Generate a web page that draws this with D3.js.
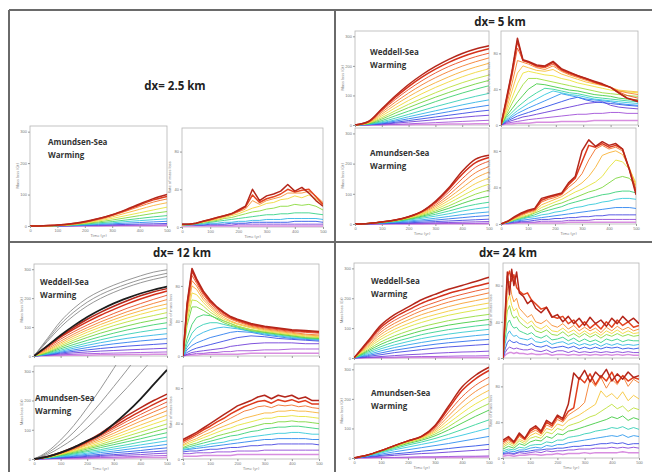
<!DOCTYPE html>
<html>
<head>
<meta charset="utf-8">
<script src="https://cdn.jsdelivr.net/npm/d3@7"></script>
<style>
  body { margin: 0; background: #fff; }
  svg { display: block; font-family: "Open Sans", "DejaVu Sans", sans-serif; }
</style>
</head>
<body>
<svg width="652" height="472"></svg>
<script>
// ---- data ----
// cumulative panels: time 0..500 every 50
const timeCum = [0, 50, 100, 150, 200, 250, 300, 350, 400, 450, 500];
const timeEvery25 = [0, 25, 50, 75, 100, 125, 150, 175, 200, 225, 250, 275, 300, 325, 350, 375, 400, 425, 450, 475, 500];
const timeEvery20 = [0, 20, 40, 60, 80, 100, 120, 140, 160, 180, 200, 220, 240, 260, 280, 300, 320, 340, 360, 380, 400, 420, 440, 460, 480, 500];
const time5WRate = [0, 20, 40, 60, 80, 100, 130, 160, 190, 220, 250, 280, 310, 340, 370, 400, 430, 460, 500];
const time12WRate = [0, 15, 33, 50, 75, 100, 125, 150, 175, 200, 250, 300, 350, 400, 450, 500];
const time24WRate = [0, 8, 16, 24, 32, 40, 50, 60, 75, 90, 105, 120, 140, 160, 180, 200, 220, 240, 260, 280, 300, 320, 340, 360, 380, 400, 420, 440, 460, 480, 500];

const xTicks = [0, 100, 200, 300, 400, 500];
const yTicksCum = [0, 100, 200, 300];
const yTicksRate = [0, 40, 80];

// series are listed from the lowest (violet) to the highest (red) curve
const amundsen25Cum = [
  [0, 0, 0, 0, 0, 0, 0, 1, 1, 1, 1],
  [0, 0, 0, 0, 1, 1, 2, 2, 3, 3, 4],
  [0, 0, 0, 1, 2, 3, 4, 5, 6, 7, 8],
  [0, 0, 0, 1, 3, 5, 7, 9, 11, 13, 15],
  [0, 0, 1, 2, 4, 7, 10, 14, 17, 20, 23],
  [0, 0, 1, 3, 6, 10, 14, 19, 24, 29, 33],
  [0, 0, 1, 4, 8, 13, 19, 26, 33, 40, 46],
  [0, 0, 1, 4, 9, 16, 24, 33, 42, 51, 60],
  [0, 0, 1, 5, 11, 19, 29, 41, 53, 65, 74],
  [0, 0, 2, 5, 12, 21, 33, 47, 62, 76, 86],
  [0, 1, 3, 7, 13, 23, 35, 50, 67, 83, 94],
  [0, 1, 3, 7, 14, 24, 36, 52, 70, 87, 100]
];
const amundsen25Rate = [
  [1, 1, 1, 1, 1, 1, 1, 1, 1, 1, 1, 1, 1, 1, 1, 1, 1, 1, 1, 1, 1],
  [2, 2, 2, 2, 2, 2, 2, 2, 3, 3, 3, 3, 3, 3, 3, 3, 3, 3, 3, 3, 3],
  [3, 3, 2, 2, 3, 3, 3, 4, 4, 4, 5, 5, 5, 5, 5, 5, 6, 6, 6, 6, 5],
  [3, 3, 3, 3, 4, 4, 5, 5, 6, 6, 7, 7, 8, 8, 8, 9, 9, 9, 9, 9, 8],
  [2, 2, 3, 4, 5, 6, 7, 8, 9, 10, 11, 12, 13, 13, 14, 14, 15, 15, 15, 14, 13],
  [2, 3, 4, 5, 6, 7, 9, 10, 12, 14, 16, 17, 19, 20, 22, 22, 24, 23, 24, 22, 18],
  [2, 3, 4, 5, 7, 8, 10, 12, 14, 17, 20, 22, 25, 26, 29, 30, 33, 31, 34, 30, 24],
  [2, 3, 4, 6, 7, 9, 11, 13, 16, 19, 28, 24, 28, 30, 32, 36, 36, 36, 38, 33, 26],
  [3, 3, 4, 6, 8, 10, 12, 14, 17, 21, 34, 26, 30, 32, 35, 40, 37, 39, 40, 32, 24],
  [3, 3, 4, 6, 8, 10, 12, 14, 18, 22, 40, 28, 33, 35, 38, 45, 38, 42, 36, 28, 22]
];
const weddell5Cum = [
  [0, 0, 0, 1, 1, 2, 2, 3, 3, 4, 4],
  [0, 0, 1, 2, 4, 6, 8, 10, 12, 14, 16],
  [0, 1, 3, 6, 10, 14, 18, 22, 26, 30, 33],
  [0, 1, 4, 9, 15, 21, 27, 33, 39, 45, 50],
  [0, 2, 6, 13, 21, 29, 37, 45, 53, 60, 67],
  [0, 2, 8, 17, 28, 38, 48, 58, 68, 77, 85],
  [0, 3, 11, 23, 36, 49, 62, 74, 86, 97, 107],
  [0, 4, 15, 31, 47, 63, 79, 94, 108, 121, 133],
  [0, 5, 20, 40, 59, 77, 94, 110, 125, 139, 151],
  [0, 6, 25, 48, 70, 90, 109, 127, 143, 157, 169],
  [0, 7, 31, 58, 83, 106, 127, 146, 163, 178, 190],
  [0, 8, 37, 68, 96, 121, 143, 163, 181, 196, 209],
  [0, 9, 43, 77, 108, 136, 160, 181, 199, 214, 227],
  [0, 10, 48, 86, 120, 150, 176, 198, 216, 231, 243],
  [0, 11, 52, 93, 130, 162, 189, 212, 231, 246, 258],
  [0, 12, 55, 98, 137, 170, 198, 222, 242, 257, 268]
];
const weddell5Rate = [
  [0, 1, 1, 2, 2, 2, 3, 3, 3, 4, 4, 4, 4, 5, 5, 5, 5, 5, 5],
  [0, 2, 3, 4, 5, 6, 7, 8, 9, 10, 11, 12, 12, 13, 13, 14, 14, 13, 13],
  [0, 3, 5, 7, 9, 10, 12, 14, 16, 18, 20, 22, 24, 25, 26, 22, 20, 19, 18],
  [0, 4, 7, 10, 12, 14, 17, 20, 23, 26, 29, 31, 28, 26, 25, 24, 23, 22, 21],
  [0, 5, 9, 13, 16, 19, 23, 27, 31, 35, 33, 31, 29, 28, 27, 26, 24, 23, 22],
  [0, 6, 11, 16, 20, 24, 29, 34, 38, 36, 34, 33, 31, 29, 28, 27, 26, 25, 24],
  [0, 8, 14, 20, 25, 30, 36, 41, 40, 38, 36, 35, 33, 31, 30, 29, 28, 27, 26],
  [0, 10, 18, 26, 33, 40, 46, 45, 43, 41, 39, 38, 36, 34, 33, 32, 30, 29, 28],
  [0, 12, 24, 35, 45, 52, 52, 50, 48, 46, 44, 42, 40, 38, 36, 35, 34, 33, 32],
  [0, 15, 30, 46, 58, 60, 58, 56, 55, 52, 50, 47, 45, 43, 41, 39, 38, 37, 36],
  [0, 18, 38, 58, 66, 64, 61, 60, 62, 57, 54, 51, 48, 46, 44, 42, 39, 38, 37],
  [0, 22, 46, 72, 70, 68, 64, 62, 66, 60, 56, 53, 50, 47, 45, 42, 38, 36, 34],
  [0, 26, 54, 86, 72, 70, 65, 64, 68, 61, 57, 54, 51, 48, 45, 42, 37, 33, 30],
  [0, 28, 58, 94, 72, 70, 66, 65, 70, 62, 58, 55, 52, 48, 45, 42, 36, 30, 27],
  [0, 30, 60, 97, 73, 71, 67, 66, 71, 63, 59, 55, 52, 49, 46, 42, 36, 30, 26]
];
const amundsen5Cum = [
  [0, 0, 0, 0, 0, 0, 1, 1, 1, 1, 1],
  [0, 0, 0, 1, 1, 1, 1, 2, 2, 2, 3],
  [0, 0, 1, 2, 2, 3, 4, 5, 6, 7, 8],
  [0, 1, 2, 3, 4, 6, 8, 10, 12, 14, 16],
  [0, 1, 2, 4, 7, 10, 13, 17, 21, 25, 28],
  [0, 1, 3, 6, 10, 14, 19, 25, 31, 36, 40],
  [0, 1, 4, 8, 13, 19, 26, 34, 43, 50, 56],
  [0, 1, 5, 9, 15, 23, 32, 43, 55, 65, 72],
  [0, 2, 5, 10, 17, 26, 38, 52, 68, 82, 92],
  [0, 2, 6, 11, 18, 29, 43, 60, 80, 99, 112],
  [0, 2, 6, 11, 20, 32, 48, 69, 93, 116, 132],
  [0, 2, 6, 12, 21, 34, 53, 78, 106, 134, 152],
  [0, 2, 7, 12, 22, 37, 58, 87, 120, 152, 172],
  [0, 2, 7, 13, 23, 39, 63, 96, 135, 170, 190],
  [0, 2, 7, 13, 24, 41, 68, 106, 150, 188, 208],
  [0, 2, 7, 13, 24, 42, 72, 115, 165, 203, 220],
  [0, 2, 7, 13, 24, 42, 75, 120, 175, 215, 228]
];
const amundsen5Rate = [
  [0, 0, 1, 1, 1, 1, 1, 1, 1, 1, 2, 2, 2, 2, 2, 2, 2, 2, 2, 2, 2],
  [0, 1, 1, 2, 2, 2, 3, 3, 3, 3, 4, 4, 4, 4, 5, 5, 5, 5, 5, 5, 5],
  [0, 1, 2, 3, 3, 4, 5, 5, 6, 6, 7, 7, 8, 8, 9, 9, 10, 10, 10, 10, 10],
  [0, 1, 3, 4, 5, 6, 7, 8, 9, 10, 11, 12, 13, 14, 15, 16, 17, 18, 18, 18, 17],
  [0, 2, 4, 5, 7, 8, 10, 11, 13, 14, 16, 18, 19, 21, 22, 24, 25, 27, 28, 28, 27],
  [0, 2, 4, 6, 8, 10, 13, 15, 17, 19, 22, 24, 26, 28, 30, 32, 33, 35, 36, 36, 34],
  [0, 2, 5, 7, 9, 12, 15, 18, 21, 23, 26, 29, 32, 35, 37, 40, 45, 50, 52, 50, 42],
  [0, 2, 5, 8, 10, 13, 18, 21, 24, 27, 31, 35, 38, 42, 46, 52, 62, 70, 68, 60, 45],
  [0, 3, 6, 9, 12, 14, 21, 24, 27, 30, 35, 40, 45, 52, 62, 75, 78, 80, 76, 62, 42],
  [0, 3, 7, 10, 13, 15, 24, 27, 29, 32, 40, 46, 55, 70, 82, 86, 82, 84, 80, 60, 38],
  [0, 3, 7, 11, 14, 16, 26, 29, 31, 33, 43, 50, 68, 86, 84, 88, 84, 86, 82, 60, 35],
  [0, 3, 8, 12, 15, 17, 28, 30, 32, 34, 45, 52, 80, 92, 85, 90, 86, 88, 82, 60, 32]
];
const weddell12Cum = [
  [0, 1, 2, 3, 3, 4, 4, 5, 5, 6, 6],
  [0, 2, 4, 6, 8, 9, 10, 11, 12, 13, 14],
  [0, 3, 7, 11, 14, 17, 19, 21, 23, 25, 27],
  [0, 4, 10, 16, 21, 26, 30, 34, 37, 40, 43],
  [0, 5, 13, 21, 29, 36, 42, 47, 52, 56, 60],
  [0, 6, 16, 27, 37, 46, 54, 61, 67, 72, 77],
  [0, 8, 20, 33, 45, 56, 66, 75, 83, 90, 96],
  [0, 10, 25, 40, 54, 67, 79, 90, 99, 108, 115],
  [0, 12, 30, 48, 64, 79, 92, 104, 115, 124, 133],
  [0, 14, 35, 55, 73, 90, 105, 118, 130, 140, 150],
  [0, 17, 40, 62, 82, 100, 116, 131, 144, 156, 166],
  [0, 20, 45, 69, 90, 109, 126, 142, 156, 169, 180],
  [0, 24, 51, 76, 98, 118, 136, 153, 168, 182, 195],
  [0, 28, 58, 84, 107, 128, 147, 165, 181, 196, 210],
  [0, 32, 65, 93, 118, 141, 161, 180, 197, 212, 225],
  [0, 34, 69, 99, 127, 151, 172, 191, 208, 222, 233]
];
const weddell12Gray = [
  [0, 50, 100, 140, 173, 199, 220, 238, 253, 265, 275],
  [0, 55, 110, 152, 186, 212, 232, 249, 264, 276, 286],
  [0, 60, 120, 165, 200, 225, 245, 262, 277, 290, 298]
];
const weddell12Black = [0, 35, 72, 105, 135, 160, 182, 200, 216, 229, 240];
const weddell12Rate = [
  [0, 1, 1, 1, 2, 2, 2, 2, 2, 2, 3, 3, 3, 3, 3, 3],
  [0, 1, 2, 3, 3, 4, 4, 5, 5, 6, 6, 7, 7, 8, 8, 8],
  [0, 2, 4, 5, 6, 7, 8, 9, 11, 12, 14, 15, 15, 15, 14, 14],
  [0, 4, 7, 9, 11, 13, 15, 17, 19, 21, 23, 22, 20, 19, 18, 17],
  [0, 7, 12, 15, 18, 21, 23, 25, 27, 28, 27, 24, 22, 20, 19, 18],
  [0, 10, 18, 23, 27, 30, 32, 33, 32, 31, 28, 25, 23, 21, 20, 19],
  [0, 14, 26, 32, 36, 38, 38, 36, 34, 32, 28, 26, 24, 22, 20, 19],
  [0, 20, 36, 44, 47, 46, 43, 40, 37, 34, 30, 27, 25, 23, 21, 20],
  [0, 35, 56, 56, 52, 47, 42, 38, 35, 33, 29, 27, 25, 23, 21, 20],
  [0, 40, 64, 63, 57, 50, 45, 40, 37, 34, 30, 28, 26, 24, 22, 21],
  [0, 44, 72, 70, 61, 53, 47, 42, 39, 36, 32, 29, 27, 25, 23, 22],
  [0, 48, 80, 76, 64, 56, 49, 44, 40, 37, 33, 30, 28, 26, 24, 23],
  [0, 52, 86, 80, 67, 58, 51, 46, 42, 39, 34, 31, 29, 27, 25, 24],
  [0, 55, 92, 83, 70, 60, 53, 47, 43, 40, 35, 32, 30, 28, 27, 26],
  [0, 58, 97, 86, 72, 62, 55, 49, 44, 41, 36, 33, 31, 29, 28, 27],
  [0, 60, 100, 88, 74, 64, 56, 50, 45, 42, 37, 34, 32, 30, 29, 28]
];
const amundsen12Cum = [
  [0, 0, 1, 1, 2, 3, 3, 4, 5, 5, 6],
  [0, 1, 2, 3, 4, 5, 6, 8, 9, 11, 12],
  [0, 1, 3, 5, 6, 9, 11, 13, 15, 18, 20],
  [0, 2, 4, 6, 9, 12, 15, 18, 22, 25, 28],
  [0, 2, 5, 9, 12, 16, 21, 25, 29, 34, 38],
  [0, 3, 7, 11, 16, 22, 27, 33, 39, 44, 50],
  [0, 3, 9, 14, 20, 27, 34, 41, 48, 55, 62],
  [0, 4, 10, 17, 25, 32, 41, 49, 58, 66, 75],
  [0, 5, 12, 20, 29, 39, 49, 59, 69, 80, 90],
  [0, 5, 14, 23, 34, 45, 56, 68, 80, 93, 105],
  [0, 6, 15, 26, 38, 50, 64, 78, 92, 106, 120],
  [0, 6, 16, 28, 41, 56, 72, 88, 104, 120, 135],
  [0, 7, 18, 31, 46, 62, 80, 98, 116, 133, 150],
  [0, 7, 19, 33, 50, 68, 88, 109, 129, 147, 165],
  [0, 7, 20, 35, 54, 74, 97, 119, 141, 161, 180],
  [0, 8, 21, 37, 57, 79, 104, 129, 152, 174, 195],
  [0, 8, 21, 38, 59, 83, 110, 138, 163, 187, 208],
  [0, 8, 22, 40, 62, 88, 118, 148, 175, 200, 222]
];
const amundsen12Gray = [
  [0, 15, 40, 70, 107, 150, 196, 244, 294, 345, 395],
  [0, 20, 52, 92, 140, 192, 248, 305, 365, 425, 485],
  [0, 25, 65, 115, 175, 240, 310, 380, 450, 520, 590]
];
const amundsen12Black = [0, 8, 22, 40, 62, 85, 120, 160, 205, 255, 305];
const amundsen12Rate = [
  [3, 3, 3, 4, 4, 4, 4, 4, 5, 5, 5, 5, 5, 5, 5, 5, 5, 5, 5, 5, 5],
  [6, 6, 7, 7, 7, 8, 8, 8, 9, 9, 9, 9, 10, 10, 10, 10, 10, 10, 10, 10, 10],
  [8, 9, 9, 10, 11, 11, 12, 13, 13, 14, 15, 15, 16, 16, 17, 17, 17, 17, 17, 17, 16],
  [10, 11, 12, 13, 14, 15, 16, 17, 18, 19, 20, 21, 22, 22, 23, 23, 23, 23, 23, 22, 22],
  [11, 12, 14, 15, 17, 18, 19, 21, 22, 24, 25, 26, 27, 28, 29, 29, 30, 30, 29, 28, 28],
  [12, 14, 16, 18, 20, 22, 24, 26, 27, 29, 31, 32, 34, 35, 36, 36, 37, 37, 36, 35, 34],
  [13, 16, 18, 21, 23, 26, 28, 30, 32, 34, 36, 38, 40, 40, 42, 42, 43, 42, 42, 41, 40],
  [15, 18, 21, 24, 27, 30, 33, 35, 38, 40, 42, 44, 46, 46, 48, 48, 49, 48, 48, 47, 46],
  [16, 20, 23, 27, 30, 34, 37, 40, 43, 46, 48, 50, 52, 52, 54, 54, 55, 54, 54, 53, 52],
  [18, 22, 26, 30, 34, 38, 42, 46, 50, 54, 56, 59, 60, 58, 61, 60, 61, 59, 60, 58, 57],
  [20, 24, 28, 33, 37, 42, 46, 51, 55, 59, 62, 65, 66, 63, 67, 65, 67, 64, 66, 62, 62],
  [22, 26, 30, 35, 40, 45, 50, 55, 60, 63, 66, 70, 72, 68, 72, 70, 72, 68, 70, 66, 66]
];
const weddell24Cum = [
  [0, 1, 1, 1, 2, 2, 2, 2, 2, 2, 2],
  [0, 1, 2, 3, 4, 5, 5, 6, 7, 7, 8],
  [0, 2, 5, 8, 11, 13, 16, 18, 20, 21, 23],
  [0, 5, 11, 18, 23, 28, 33, 37, 40, 43, 46],
  [0, 8, 17, 26, 33, 40, 46, 51, 55, 59, 62],
  [0, 11, 24, 35, 44, 52, 59, 65, 70, 75, 79],
  [0, 15, 31, 44, 55, 65, 73, 80, 86, 91, 96],
  [0, 19, 38, 54, 66, 78, 87, 95, 101, 107, 112],
  [0, 23, 46, 64, 78, 91, 101, 110, 117, 123, 129],
  [0, 27, 54, 74, 90, 104, 115, 125, 133, 140, 146],
  [0, 32, 63, 86, 104, 119, 132, 143, 152, 160, 168],
  [0, 36, 71, 96, 115, 132, 145, 157, 167, 176, 184],
  [0, 40, 79, 106, 127, 145, 159, 172, 183, 192, 201],
  [0, 44, 87, 116, 138, 158, 173, 187, 198, 208, 218],
  [0, 48, 95, 126, 149, 170, 186, 201, 213, 224, 234],
  [0, 52, 103, 136, 160, 183, 200, 216, 228, 240, 251],
  [0, 55, 110, 145, 170, 195, 213, 230, 243, 256, 270]
];
const weddell24Rate = [
  [0, 3, 5, 6, 6, 5, 6, 5, 5, 4, 5, 4, 4, 5, 3, 4, 4, 3, 4, 3, 4, 3, 4, 3, 4, 3, 4, 3, 4, 3, 3],
  [0, 6, 10, 12, 11, 10, 11, 10, 9, 9, 10, 8, 7, 9, 6, 8, 8, 6, 8, 6, 7, 6, 7, 6, 7, 6, 7, 6, 7, 6, 6],
  [0, 10, 17, 20, 18, 17, 18, 16, 15, 14, 16, 13, 12, 14, 11, 12, 13, 11, 13, 10, 12, 10, 12, 10, 12, 11, 12, 10, 11, 10, 11],
  [0, 16, 26, 30, 26, 24, 25, 22, 21, 20, 22, 18, 17, 19, 15, 17, 18, 15, 17, 14, 16, 14, 16, 13, 16, 14, 16, 14, 15, 14, 15],
  [0, 22, 38, 42, 36, 33, 34, 30, 28, 26, 28, 24, 22, 25, 20, 21, 23, 19, 22, 18, 21, 18, 20, 17, 21, 19, 21, 18, 20, 19, 19],
  [0, 30, 52, 58, 48, 44, 46, 40, 36, 33, 36, 30, 28, 31, 26, 25, 29, 24, 27, 23, 27, 23, 26, 22, 26, 24, 27, 24, 26, 24, 25],
  [0, 35, 62, 70, 58, 52, 55, 46, 42, 38, 41, 35, 32, 36, 30, 29, 33, 28, 31, 26, 30, 26, 29, 25, 30, 27, 31, 27, 30, 27, 28],
  [0, 40, 75, 85, 70, 62, 66, 55, 50, 45, 48, 40, 38, 42, 36, 34, 38, 32, 36, 30, 34, 30, 33, 28, 34, 30, 35, 31, 34, 30, 32],
  [0, 45, 90, 96, 85, 92, 78, 74, 70, 72, 64, 60, 54, 56, 46, 44, 46, 38, 42, 34, 40, 33, 38, 32, 40, 34, 42, 36, 40, 34, 36],
  [0, 50, 95, 70, 98, 80, 95, 72, 68, 60, 64, 55, 50, 56, 45, 48, 40, 46, 38, 44, 36, 45, 38, 42, 35, 44, 38, 46, 40, 44, 38]
];
const amundsen24Cum = [
  [0, 0, 1, 1, 1, 2, 2, 2, 2, 3, 3],
  [0, 1, 2, 2, 3, 4, 4, 5, 6, 6, 7],
  [0, 3, 6, 9, 12, 15, 17, 20, 23, 26, 29],
  [0, 4, 9, 14, 18, 23, 27, 32, 37, 41, 46],
  [0, 6, 13, 21, 28, 35, 42, 49, 57, 65, 73],
  [0, 7, 17, 28, 37, 46, 55, 66, 77, 89, 101],
  [0, 8, 20, 32, 44, 54, 66, 80, 96, 113, 129],
  [0, 9, 22, 36, 49, 60, 75, 95, 118, 141, 162],
  [0, 9, 23, 38, 52, 64, 81, 106, 135, 162, 184],
  [0, 10, 24, 40, 54, 67, 87, 118, 152, 183, 207],
  [0, 10, 25, 41, 56, 69, 92, 130, 170, 204, 229],
  [0, 10, 25, 42, 57, 71, 97, 142, 188, 225, 251],
  [0, 10, 25, 42, 58, 72, 102, 155, 207, 246, 273],
  [0, 10, 25, 42, 58, 73, 107, 167, 228, 268, 296],
  [0, 10, 25, 42, 58, 73, 110, 175, 240, 280, 307]
];
const amundsen24Rate = [
  [2, 3, 2, 3, 3, 4, 4, 3, 4, 4, 5, 4, 5, 5, 5, 6, 5, 6, 6, 6, 6, 6, 7, 6, 6, 6],
  [4, 5, 4, 6, 5, 6, 7, 6, 8, 7, 8, 8, 9, 9, 10, 10, 10, 11, 11, 11, 12, 11, 12, 11, 12, 11],
  [5, 6, 5, 7, 7, 8, 9, 9, 10, 10, 11, 11, 12, 13, 13, 14, 14, 15, 16, 16, 17, 16, 17, 15, 16, 16],
  [6, 8, 7, 9, 9, 11, 12, 11, 14, 13, 15, 15, 17, 18, 19, 20, 21, 22, 23, 24, 25, 24, 26, 23, 25, 24],
  [8, 10, 9, 12, 11, 14, 15, 15, 18, 17, 20, 20, 23, 24, 25, 27, 28, 30, 31, 32, 34, 33, 35, 32, 34, 32],
  [10, 13, 11, 16, 14, 18, 20, 19, 24, 22, 27, 26, 30, 31, 33, 35, 37, 39, 41, 43, 46, 44, 47, 42, 45, 43],
  [12, 16, 13, 19, 16, 22, 24, 22, 29, 27, 33, 31, 36, 38, 40, 43, 46, 48, 52, 56, 60, 55, 58, 52, 56, 54],
  [14, 18, 15, 21, 18, 25, 28, 25, 33, 31, 38, 36, 42, 45, 48, 52, 56, 60, 75, 68, 72, 66, 74, 64, 70, 66],
  [16, 20, 16, 24, 20, 28, 31, 27, 37, 34, 43, 40, 48, 52, 56, 62, 88, 80, 90, 78, 88, 82, 92, 80, 88, 84],
  [18, 22, 17, 26, 21, 30, 34, 28, 40, 36, 46, 42, 52, 56, 90, 84, 94, 82, 92, 86, 96, 84, 92, 86, 90, 88],
  [20, 24, 18, 28, 22, 32, 36, 30, 42, 38, 48, 44, 60, 95, 88, 98, 85, 96, 90, 99, 86, 94, 88, 96, 90, 92]
];

// ---- drawing ----
const svg = d3.select('svg');
const palette = ['#d88ee0', '#a050d8', '#6a3cd8', '#3050e8', '#2f8ff0', '#35c8e0', '#35d49a',
  '#45cc45', '#9ede3c', '#ece43c', '#f8bd3a', '#f6862e', '#ee5424', '#d8321c', '#b4261a'];
const rainbow = d3.piecewise(d3.interpolateRgb, palette);

svg.append('defs').append('filter').attr('id', 'soft')
  .append('feGaussianBlur').attr('stdDeviation', 0.35);

const panels = [
  { box: [30, 126, 167, 226], type: 'cum', xs: timeCum, series: amundsen25Cum, xLabels: true },
  { box: [182, 128, 323, 227], type: 'rate', xs: timeEvery25, series: amundsen25Rate, xLabels: true },
  { box: [355, 31, 489, 125], type: 'cum', xs: timeCum, series: weddell5Cum },
  { box: [501, 31, 638, 125], type: 'rate', xs: time5WRate, series: weddell5Rate },
  { box: [355, 128, 489, 224], type: 'cum', xs: timeCum, series: amundsen5Cum, xLabels: true },
  { box: [501, 128, 636, 224], type: 'rate', xs: timeEvery25, series: amundsen5Rate, xLabels: true },
  { box: [34, 264, 167, 356], type: 'cum', xs: timeCum, series: weddell12Cum, gray: weddell12Gray, black: weddell12Black },
  { box: [183, 264, 319, 356], type: 'rate', xs: time12WRate, series: weddell12Rate },
  { box: [34, 366, 167, 459], type: 'cum', xs: timeCum, series: amundsen12Cum, gray: amundsen12Gray, black: amundsen12Black, xLabels: true },
  { box: [183, 366, 319, 459], type: 'rate', xs: timeEvery25, series: amundsen12Rate, xLabels: true },
  { box: [354, 263, 489, 358], type: 'cum', xs: timeCum, series: weddell24Cum },
  { box: [503, 263, 639, 358], type: 'rate', xs: time24WRate, series: weddell24Rate },
  { box: [354, 364, 489, 458], type: 'cum', xs: timeCum, series: amundsen24Cum, xLabels: true },
  { box: [503, 364, 639, 458], type: 'rate', xs: timeEvery20, series: amundsen24Rate, xLabels: true }
];

panels.forEach((p, idx) => {
  const [x0, y0, x1, y1] = p.box;
  const x = d3.scaleLinear().domain([0, 500]).range([x0, x1]);
  const y = d3.scaleLinear()
    .domain(p.type === 'cum' ? [0, 318] : [0, 105])
    .range([y1, y0]);

  svg.append('rect')
    .attr('x', x0).attr('y', y0)
    .attr('width', x1 - x0).attr('height', y1 - y0)
    .attr('fill', '#fff')
    .attr('stroke', '#b5b5b5')
    .attr('stroke-width', 0.8);

  svg.append('clipPath').attr('id', 'clip' + idx)
    .append('rect')
    .attr('x', x0).attr('y', y0 - 1)
    .attr('width', x1 - x0).attr('height', y1 - y0 + 2);

  const g = svg.append('g')
    .attr('clip-path', `url(#clip${idx})`)
    .append('g')
    .attr('filter', 'url(#soft)');

  const line = d3.line()
    .x((d, i) => x(p.xs[i]))
    .y(d => y(d))
    .curve(p.type === 'cum' ? d3.curveMonotoneX : d3.curveLinear);

  const n = p.series.length;
  g.selectAll('path.series')
    .data(p.series)
    .join('path')
    .attr('class', 'series')
    .attr('fill', 'none')
    .attr('stroke', (d, i) => rainbow(i / (n - 1)))
    .attr('stroke-width', (d, i) => (i >= n - 2 ? 1.5 : (i === 0 ? 1.5 : 0.9)))
    .attr('stroke-linejoin', 'round')
    .attr('d', line);

  if (p.gray) {
    g.selectAll('path.gray')
      .data(p.gray)
      .join('path')
      .attr('class', 'gray')
      .attr('fill', 'none')
      .attr('stroke', '#8a8a8a')
      .attr('stroke-width', 0.9)
      .attr('d', line);
  }
  if (p.black) {
    g.append('path')
      .attr('fill', 'none')
      .attr('stroke', '#1e1e1e')
      .attr('stroke-width', 1.8)
      .attr('d', line(p.black));
  }

  // axes
  const xAxisG = svg.append('g')
    .attr('transform', `translate(0,${y1})`)
    .call(d3.axisBottom(x).tickValues(xTicks).tickSize(2).tickPadding(1));
  xAxisG.select('.domain').remove();
  xAxisG.selectAll('line').attr('stroke', '#999');
  xAxisG.selectAll('text')
    .attr('font-size', 4).attr('fill', '#777')
    .style('display', p.xLabels ? null : 'none');

  const yAxisG = svg.append('g')
    .attr('transform', `translate(${x0},0)`)
    .call(d3.axisLeft(y).tickValues(p.type === 'cum' ? yTicksCum : yTicksRate).tickSize(2).tickPadding(1));
  yAxisG.select('.domain').remove();
  yAxisG.selectAll('line').attr('stroke', '#999');
  yAxisG.selectAll('text').attr('font-size', 4).attr('fill', '#777');

  if (p.xLabels) {
    svg.append('text')
      .attr('x', (x0 + x1) / 2).attr('y', y1 + 11)
      .attr('text-anchor', 'middle')
      .attr('font-size', 4).attr('fill', '#777')
      .text('Time (yr)');
  }
  svg.append('text')
    .attr('transform', `translate(${x0 - 11},${(y0 + y1) / 2}) rotate(-90)`)
    .attr('text-anchor', 'middle')
    .attr('font-size', 4).attr('fill', '#777')
    .text(p.type === 'cum' ? 'Mass loss (Gt)' : 'Rate of mass loss');
});

// quadrant frame
const frame = svg.append('g')
  .attr('stroke', '#6a6a6a')
  .attr('stroke-width', 2)
  .attr('fill', 'none');
frame.append('path').attr('d', 'M9,10H652');
frame.append('path').attr('d', 'M9,10V472');
frame.append('path').attr('d', 'M335,10V472');
frame.append('path').attr('d', 'M9,242H652');

// titles
const titles = [
  { text: 'dx= 2.5 km', x: 175, y: 90 },
  { text: 'dx= 5 km', x: 500, y: 26 },
  { text: 'dx= 12 km', x: 182, y: 257 },
  { text: 'dx= 24 km', x: 508, y: 257 }
];
svg.selectAll('text.title')
  .data(titles)
  .join('text')
  .attr('class', 'title')
  .attr('x', d => d.x).attr('y', d => d.y)
  .attr('text-anchor', 'middle')
  .attr('font-size', 11.5)
  .attr('font-weight', 700)
  .attr('fill', '#222')
  .text(d => d.text);

const notes = [
  { sea: 'Amundsen-Sea', x: 48, y: 145 },
  { sea: 'Weddell-Sea', x: 370, y: 55 },
  { sea: 'Amundsen-Sea', x: 370, y: 156 },
  { sea: 'Weddell-Sea', x: 40, y: 285 },
  { sea: 'Amundsen-Sea', x: 35, y: 401 },
  { sea: 'Weddell-Sea', x: 371, y: 284 },
  { sea: 'Amundsen-Sea', x: 371, y: 396 }
];
const noteG = svg.selectAll('text.note')
  .data(notes)
  .join('text')
  .attr('class', 'note')
  .attr('font-size', 8)
  .attr('font-weight', 700)
  .attr('fill', '#333');
noteG.append('tspan').attr('x', d => d.x).attr('y', d => d.y).text(d => d.sea);
noteG.append('tspan').attr('x', d => d.x).attr('y', d => d.y + 13).text('Warming');
</script>
</body>
</html>
